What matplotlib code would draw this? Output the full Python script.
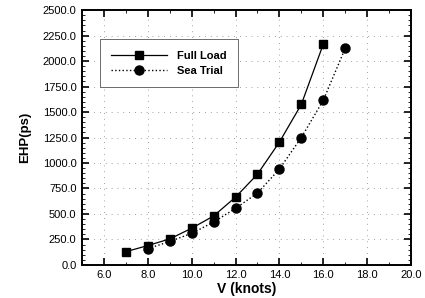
import matplotlib
matplotlib.use('Agg')
import matplotlib.pyplot as plt
from matplotlib.ticker import MultipleLocator, FormatStrFormatter

# speed (knots) and effective horse power (ps)
full_v = [7, 8, 9, 10, 11, 12, 13, 14, 15, 16]
full_ehp = [130, 190, 255, 360, 480, 665, 890, 1205, 1575, 2165]
sea_v = [8, 9, 10, 11, 12, 13, 14, 15, 16, 17]
sea_ehp = [160, 230, 310, 420, 555, 705, 940, 1250, 1615, 2125]

plt.rcParams['font.family'] = ['Liberation Sans', 'DejaVu Sans']

fig = plt.figure(figsize=(4.25, 2.98), dpi=100)
ax = fig.add_axes([0.193, 0.111, 0.774, 0.855])

ax.plot(full_v, full_ehp, '-', color='black', lw=0.9, marker='s', ms=6, label='Full Load')
ax.plot(sea_v, sea_ehp, ':', color='black', lw=1.0, marker='o', ms=6.5, label='Sea Trial')

ax.set_xlim(5, 20)
ax.set_ylim(0, 2500)
ax.xaxis.set_major_locator(MultipleLocator(2))
ax.xaxis.set_minor_locator(MultipleLocator(1))
ax.yaxis.set_major_locator(MultipleLocator(250))
ax.yaxis.set_minor_locator(MultipleLocator(50))
ax.xaxis.set_major_formatter(FormatStrFormatter('%.1f'))
ax.yaxis.set_major_formatter(FormatStrFormatter('%.1f'))
ax.set_xticks([6, 8, 10, 12, 14, 16, 18, 20])
ax.tick_params(which='both', direction='in', top=True, right=True, labelsize=8)
ax.tick_params(which='major', length=5, width=1.2, pad=4)
ax.tick_params(which='minor', length=2, width=0.6)
for s in ax.spines.values():
    s.set_linewidth(1.4)

ax.grid(True, which='major', ls=(0, (1, 6)), color='gray', lw=0.6)

ax.set_xlabel('V (knots)', fontsize=10, fontweight='bold', labelpad=1)
ax.set_ylabel('EHP(ps)', fontsize=9.5, fontweight='bold', labelpad=8)

leg = ax.legend(loc='upper left', bbox_to_anchor=(0.055, 0.885), borderaxespad=0,
                prop={'weight': 'bold', 'size': 8}, handlelength=5,
                fancybox=False, edgecolor='#555555', framealpha=1,
                borderpad=1.0, labelspacing=0.45, handletextpad=0.9)
leg.get_frame().set_linewidth(0.6)

plt.savefig('out.png', dpi=100)
